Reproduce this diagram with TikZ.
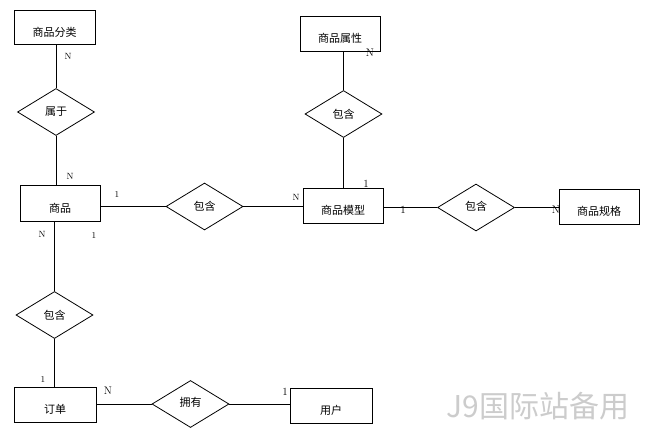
\documentclass[tikz,border=0pt]{standalone}
\usepackage{fontspec}
\newfontfamily\cjk{Noto Sans CJK SC}
\usetikzlibrary{shapes.geometric}
\begin{document}
\begin{tikzpicture}[x=1pt,y=-1pt,
  ent/.style={draw, line width=0.8pt, minimum width=80pt, minimum height=35pt, inner sep=0pt,
    font=\cjk\fontsize{11}{11}\selectfont, text height=19pt, text depth=1pt},
  rel/.style={draw, diamond, line width=0.8pt, minimum width=77pt, minimum height=47pt, inner sep=0pt,
    font=\cjk\fontsize{11}{11}\selectfont},
  card/.style={font=\fontsize{9}{9}\selectfont, inner sep=0pt},
  cardL/.style={font=\fontsize{11}{11}\selectfont, inner sep=0pt},
  conn/.style={line width=0.8pt},
  wm/.style={font=\cjk\fontsize{30}{30}\selectfont, text=black!20, inner sep=0pt}]
\useasboundingbox (0,0) rectangle (653,439);
% entities
\node[ent, minimum width=81pt, minimum height=34pt] (cat) at (54.5,27) {商品分类};
\node[ent] (attr) at (340,33.5) {商品属性};
\node[ent, minimum height=36pt] (prod) at (60,203) {商品};
\node[ent] (model) at (343,205.5) {商品模型};
\node[ent] (spec) at (599,206.5) {商品规格};
\node[ent, minimum width=82pt] (order) at (55,404.5) {订单};
\node[ent, minimum width=82pt] (user) at (331,405.5) {用户};
% relations
\node[rel] (d1) at (56,112) {属于};
\node[rel] (d2) at (343.5,114) {包含};
\node[rel] (d3) at (204.5,206.5) {包含};
\node[rel] (d4) at (476,207.5) {\raisebox{3pt}{包含}};
\node[rel] (d5) at (54.5,315) {包含};
\node[rel] (d6) at (190.5,404) {\raisebox{5pt}{拥有}};
% connectors
\draw[conn] (d1.north |- cat.south) -- (d1.north);
\draw[conn] (d1.south) -- (d1.south |- prod.north);
\draw[conn] (d3.west -| prod.east) -- (d3.west);
\draw[conn] (d3.east) -- (d3.east -| model.west);
\draw[conn] (model.north -| d2.south) -- (d2.south);
\draw[conn] (d2.north) -- (d2.north |- attr.south);
\draw[conn] (d4.west -| model.east) -- (d4.west);
\draw[conn] (d4.east) -- (d4.east -| spec.west);
\draw[conn] (d5.north |- prod.south) -- (d5.north);
\draw[conn] (d5.south) -- (d5.south |- order.north);
\draw[conn] (d6.west -| order.east) -- (d6.west);
\draw[conn] (d6.east) -- (d6.east -| user.west);
% cardinalities
\node[card] (c1) at (68,56) {N};
\node[card] (c2) at (70,176) {N};
\node[card] (c3) at (117,195) {1};
\node[card] (c4) at (296,197) {N};
\node[cardL] (c5) at (366,184) {1};
\node[cardL] (c6) at (370,53) {N};
\node[cardL] (c7) at (403,210) {1};
\node[cardL] (c8) at (556,210) {N};
\node[card] (c9) at (42,234) {N};
\node[card] (c10) at (94,235) {1};
\node[card] (c11) at (43,379) {1};
\node[cardL] (c12) at (108,391) {N};
\node[cardL] (c13) at (285,392) {1};
% watermark
\node[wm] (wmark) at (538,406) {J9国际站备用};
\end{tikzpicture}
\end{document}
